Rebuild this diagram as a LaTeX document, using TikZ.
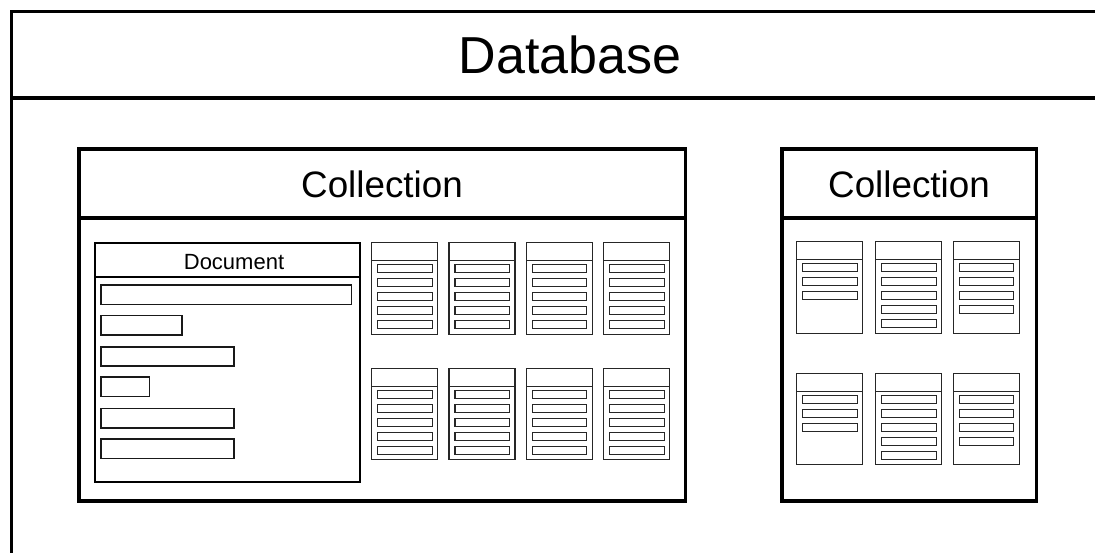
\documentclass[tikz,border=0pt]{standalone}
\usepackage{fontspec}
\setmainfont{Liberation Sans}
\tikzset{
  heavyframe/.style={draw=black, line width=3.6pt},
  docframe/.style={draw=black, line width=2pt},
  docfield/.style={draw=black!90, line width=1.6pt},
  cardframe/.style={draw=black!85, line width=1.1pt},
  cardfield/.style={draw=black!85, line width=1.2pt},
  label/.style={inner sep=0pt, anchor=base},
}
% A small document card: left x, top y, number of fields
\newcommand\smallcard[3]{%
  \draw[cardframe] (#1,#2) rectangle ++(66,91.5);
  \draw[cardframe] (#1,#2+18) -- ++(66,0);
  \foreach \k in {1,...,#3}
    \draw[cardfield] (#1+6,#2+8+14*\k) rectangle ++(54.5,8);
}
\begin{document}
\begin{tikzpicture}[x=1pt,y=-1pt]
  \useasboundingbox (0,0) rectangle (1095,553);
  \clip (0,0) rectangle (1095,553);

  % database frame, running off the page to the right and below
  \draw[heavyframe] (1110,11.5) -- (11.5,11.5) -- (11.5,570);
  \draw[heavyframe] (11.5,98) -- (1110,98);
  \node[label, font=\fontsize{52}{60}\selectfont] (dbtitle) at (570,73.3) {Database};

  % first collection
  \draw[heavyframe] (79,149) rectangle (685.3,501);
  \draw[heavyframe] (79,218) -- (685.3,218);
  \node[label, font=\fontsize{36.8}{44}\selectfont] (colltitleA) at (382,197.3) {Collection};

  % expanded document
  \draw[docframe] (95.3,243) rectangle (360,482);
  \draw[docframe] (95.3,276.7) -- (360,276.7);
  \node[label, font=\fontsize{22}{26}\selectfont] (doctitle) at (234,269.3) {Document};
  \draw[docfield] (101,285.3) rectangle (351.5,304.5);
  \draw[docfield] (101,315.7) rectangle (182,335.2);
  \draw[docfield] (101,346.7) rectangle (234,366);
  \draw[docfield] (101,377) rectangle (149.3,396.5);
  \draw[docfield] (101,408.3) rectangle (233.7,427.7);
  \draw[docfield] (101,439) rectangle (233.7,458.3);

  % collapsed documents of the first collection
  \foreach \x in {371.7,449,526.3,603.7} {
    \smallcard{\x}{242.7}{5}
    \smallcard{\x}{368.3}{5}
  }

  % second collection
  \draw[heavyframe] (782,149) rectangle (1036.5,501);
  \draw[heavyframe] (782,218) -- (1036.5,218);
  \node[label, font=\fontsize{36.8}{44}\selectfont] (colltitleB) at (909,197.3) {Collection};

  \smallcard{796.7}{241.7}{3}
  \smallcard{875.7}{241.7}{5}
  \smallcard{953.3}{241.7}{4}
  \smallcard{796.7}{373.3}{3}
  \smallcard{875.7}{373.3}{5}
  \smallcard{953.3}{373.3}{4}
\end{tikzpicture}
\end{document}
